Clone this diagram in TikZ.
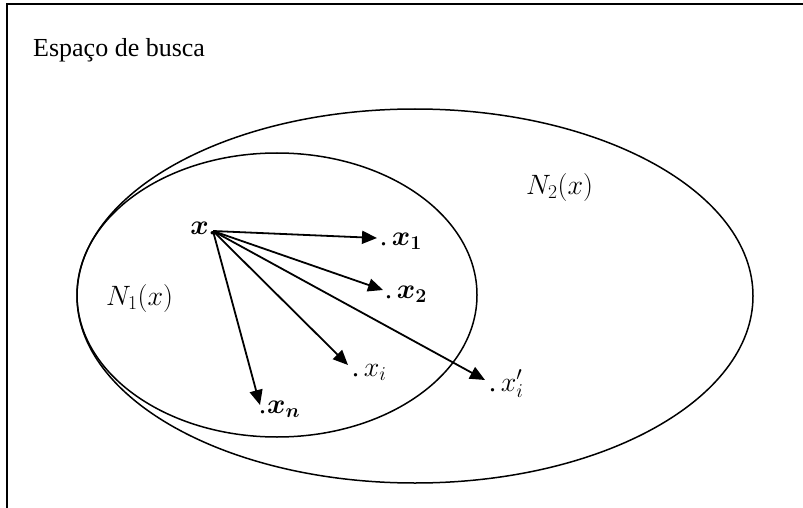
\RequirePackage{fix-cm}
\documentclass[tikz,border=0pt]{standalone}
\usepackage{amsmath}
\usepackage{bm}
\usepackage{fontspec}
\setmainfont{Liberation Serif}
\usetikzlibrary{arrows.meta}
\begin{document}
\begin{tikzpicture}[x=1pt,y=-1pt,
  lab/.style={inner sep=0pt,anchor=base west,font=\fontsize{26}{30}\selectfont},
  mlab/.style={inner sep=0pt,anchor=base west,font=\fontsize{28}{33}\selectfont},
  ell/.style={line width=1.5pt},
  arr/.style={line width=1.8pt,-{Triangle[length=15pt,width=13pt]}},
  frame/.style={line width=2pt}]
\useasboundingbox (0,0) rectangle (803,508);
% frame
\draw[frame] (7,508) -- (7,4) -- (803,4);
\node[lab] (title) at (33,57) {Espaço de busca};
% neighbourhoods
\draw[ell] (415,296) ellipse [x radius=338pt, y radius=187pt];
\draw[ell] (277,295) ellipse [x radius=200pt, y radius=142pt];
\node[mlab] (n1) at (106,305) {$N_1(x)$};
\node[mlab] (n2) at (526,194) {$N_2(x)$};
% origin
\coordinate (o) at (213,231);
\node[mlab,anchor=base east] (x) at (216,234) {$\bm{x}$.};
% targets
\coordinate (t1) at (377,238);
\coordinate (t2) at (383,290);
\coordinate (ti) at (348,365);
\coordinate (tp) at (485,380);
\coordinate (tn) at (260,405);
\node[mlab] (x1) at (380,245) {.\,$\bm{x}_{\bm{1}}$};
\node[mlab] (x2) at (385,298) {.\,$\bm{x}_{\bm{2}}$};
\node[mlab] (xi) at (352,376) {.\,$x_i$};
\node[mlab] (xp) at (489,391) {.\,$x_i'$};
\node[mlab] (xn) at (259,413) {.\kern1pt$\bm{x}_{\bm{n}}$};
\draw[arr] (o) -- (t1);
\draw[arr] (o) -- (t2);
\draw[arr] (o) -- (ti);
\draw[arr] (o) -- (tp);
\draw[arr] (o) -- (tn);
\end{tikzpicture}
\end{document}
